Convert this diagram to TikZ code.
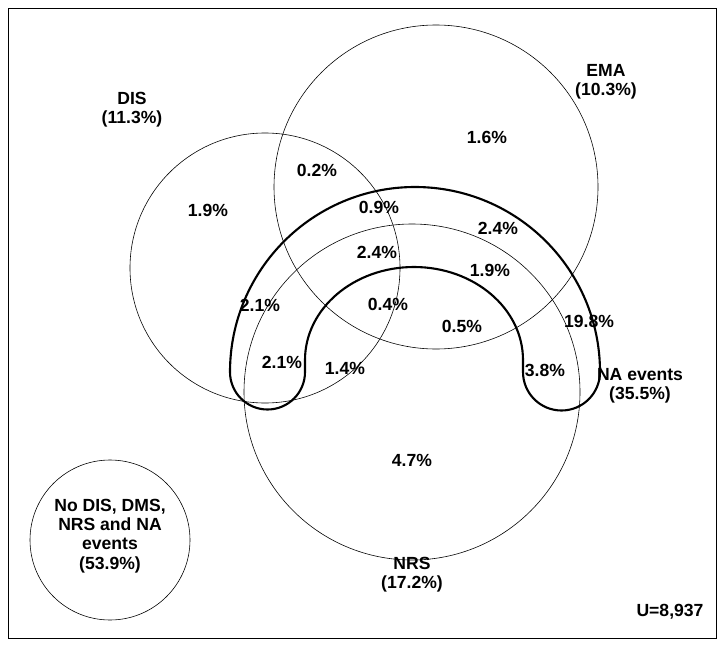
\documentclass[tikz,border=0pt]{standalone}
\usepackage{fontspec}
\setmainfont{Liberation Sans}
\usetikzlibrary{positioning}

\begin{document}
\begin{tikzpicture}[
    x=0.03cm, y=-0.03cm,
    align=center,
    font=\fontsize{15}{16.5}\selectfont\bfseries,
    set/.style={draw=black, line width=0.5pt},
    horseshoe/.style={draw=black, line width=1.8pt},
    lbl/.style={inner sep=1pt},
  ]

  \useasboundingbox (0,0) rectangle (724,646);
  \draw (8,8) rectangle (716,638);

  % sets
  \draw[set] (265,268) circle[radius=135];
  \draw[set] (436,187) circle[radius=162];
  \draw[set] (412,392) circle[radius=168];
  \draw[set] (110,540) circle[radius=80];

  % NA events
  \draw[horseshoe] (230,372) arc[start angle=180, end angle=360, radius=185]
    arc[start angle=0, end angle=180, radius=38.5]
    -- (523,360) arc[start angle=0, end angle=-180, x radius=109, y radius=93]
    -- (305,372) arc[start angle=0, end angle=180, radius=37.5] -- cycle;

  % set names
  \node (dis)   [lbl] at (132,110) {DIS\\(11.3\%)};
  \node (ema)   [lbl] at (606,82)  {EMA\\(10.3\%)};
  \node (na)    [lbl] at (640,386) {NA events\\(35.5\%)};
  \node (nrs)   [lbl] at (412,575) {NRS\\(17.2\%)};
  \node (none)  [lbl] at (110,536) {No DIS, DMS,\\NRS and NA\\events\\(53.9\%)};
  \node (total) [lbl] at (670,612) {U=8,937};

  % region values
  \node (v1) [lbl] at (487,137) {1.6\%};
  \node (v2) [lbl] at (317,170) {0.2\%};
  \node (v3) [lbl] at (208,210) {1.9\%};
  \node (v4) [lbl] at (379,207) {0.9\%};
  \node (v5) [lbl] at (498,228) {2.4\%};
  \node (v6) [lbl] at (377,252) {2.4\%};
  \node (v7) [lbl] at (490,270) {1.9\%};
  \node (v8) [lbl] at (260,305) {2.1\%};
  \node (v9) [lbl] at (388,304) {0.4\%};
  \node (v10) [lbl] at (462,326) {0.5\%};
  \node (v11) [lbl] at (589,321) {19.8\%};
  \node (v12) [lbl] at (282,362) {2.1\%};
  \node (v13) [lbl] at (345,368) {1.4\%};
  \node (v14) [lbl] at (545,370) {3.8\%};
  \node (v15) [lbl] at (412,460) {4.7\%};

\end{tikzpicture}
\end{document}
